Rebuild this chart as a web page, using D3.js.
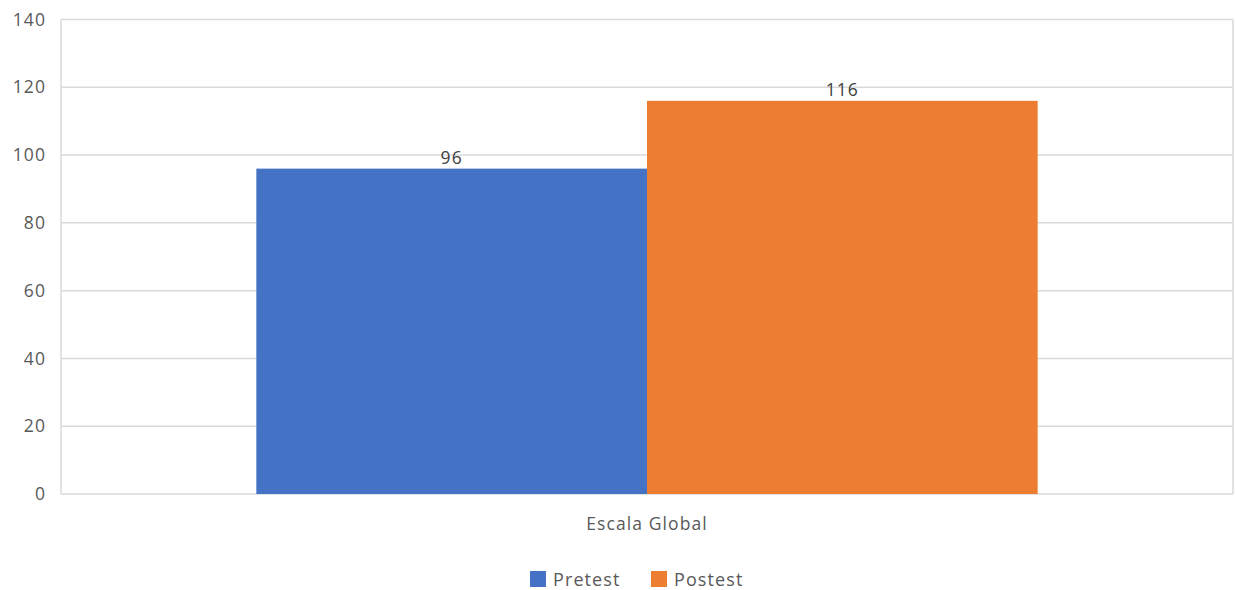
<!DOCTYPE html>
<html>
<head>
<meta charset="utf-8">
<script src="https://cdn.jsdelivr.net/npm/d3@7/dist/d3.min.js"></script>
<style>
  html, body { margin: 0; padding: 0; background: #fff; }
  svg { display: block; font-family: "Open Sans", "Noto Sans", sans-serif; }
</style>
</head>
<body>
<svg id="chart" width="1235" height="590"></svg>
<script>
// Chart data
const categories = ["Escala Global"];
const seriesNames = ["Pretest", "Postest"];
const pretest = [96];
const postest = [116];
const yTicks = [0, 20, 40, 60, 80, 100, 120, 140];
const colors = ["#4472C4", "#ED7D31"];

const seriesValues = [pretest, postest];

const svg = d3.select("#chart");
const plotLeft = 61, plotRight = 1233, plotTop = 19.5, plotBottom = 494;
const fontSize = 17.5, spacing = 1.1;

const y = d3.scaleLinear().domain([0, 140]).range([plotBottom, plotTop]);
const x0 = d3.scaleBand().domain(categories).range([plotLeft, plotRight]).paddingOuter(0.25).paddingInner(0);
const x1 = d3.scaleBand().domain(seriesNames).range([0, x0.bandwidth()]).padding(0);

// Horizontal gridlines
svg.append("g")
  .selectAll("line")
  .data(yTicks)
  .join("line")
  .attr("x1", plotLeft).attr("x2", plotRight)
  .attr("y1", d => y(d)).attr("y2", d => y(d))
  .attr("stroke", "#d9d9d9").attr("stroke-width", 1.5);

// Plot frame sides
svg.append("line").attr("x1", plotLeft).attr("x2", plotLeft).attr("y1", plotTop).attr("y2", plotBottom)
  .attr("stroke", "#d9d9d9").attr("stroke-width", 1.5);
svg.append("line").attr("x1", plotRight).attr("x2", plotRight).attr("y1", plotTop).attr("y2", plotBottom)
  .attr("stroke", "#d9d9d9").attr("stroke-width", 1.5);

// Y axis labels
const yAxis = d3.axisLeft(y).tickValues(yTicks).tickSize(0).tickPadding(15);
const gy = svg.append("g").attr("transform", `translate(${plotLeft},0)`).call(yAxis);
gy.select(".domain").remove();
gy.selectAll("text").attr("fill", "#595959").attr("font-size", fontSize)
  .attr("letter-spacing", spacing)
  .attr("font-family", "'Open Sans', 'Noto Sans', sans-serif");

// Bars
const groups = svg.append("g")
  .selectAll("g")
  .data(categories)
  .join("g")
  .attr("transform", d => `translate(${x0(d)},0)`);

groups.selectAll("rect")
  .data((d, i) => seriesNames.map((s, k) => ({ s, v: seriesValues[k][i], k })))
  .join("rect")
  .attr("x", d => x1(d.s))
  .attr("width", x1.bandwidth())
  .attr("y", d => y(d.v))
  .attr("height", d => plotBottom - y(d.v))
  .attr("fill", d => colors[d.k]);

// Value labels
groups.selectAll("text.val")
  .data((d, i) => seriesNames.map((s, k) => ({ s, v: seriesValues[k][i], k })))
  .join("text")
  .attr("class", "val")
  .attr("x", d => x1(d.s) + x1.bandwidth() / 2)
  .attr("y", d => y(d.v) - 4.5)
  .attr("text-anchor", "middle")
  .attr("fill", "#404040")
  .attr("font-size", fontSize)
  .attr("letter-spacing", spacing)
  .text(d => d.v);

// Category axis label
svg.append("g")
  .selectAll("text")
  .data(categories)
  .join("text")
  .attr("x", d => x0(d) + x0.bandwidth() / 2)
  .attr("y", 530)
  .attr("text-anchor", "middle")
  .attr("fill", "#595959")
  .attr("font-size", fontSize)
  .attr("letter-spacing", spacing)
  .text(d => d);

// Legend
const legendX = [530, 651];
const legend = svg.append("g")
  .selectAll("g")
  .data(seriesNames)
  .join("g")
  .attr("transform", (d, i) => `translate(${legendX[i]},571)`);
legend.append("rect").attr("width", 16).attr("height", 16).attr("fill", (d, i) => colors[i]);
legend.append("text").attr("x", 23).attr("y", 15)
  .attr("fill", "#595959").attr("font-size", fontSize + 0.5)
  .attr("letter-spacing", spacing)
  .text(d => d);
</script>
</body>
</html>
